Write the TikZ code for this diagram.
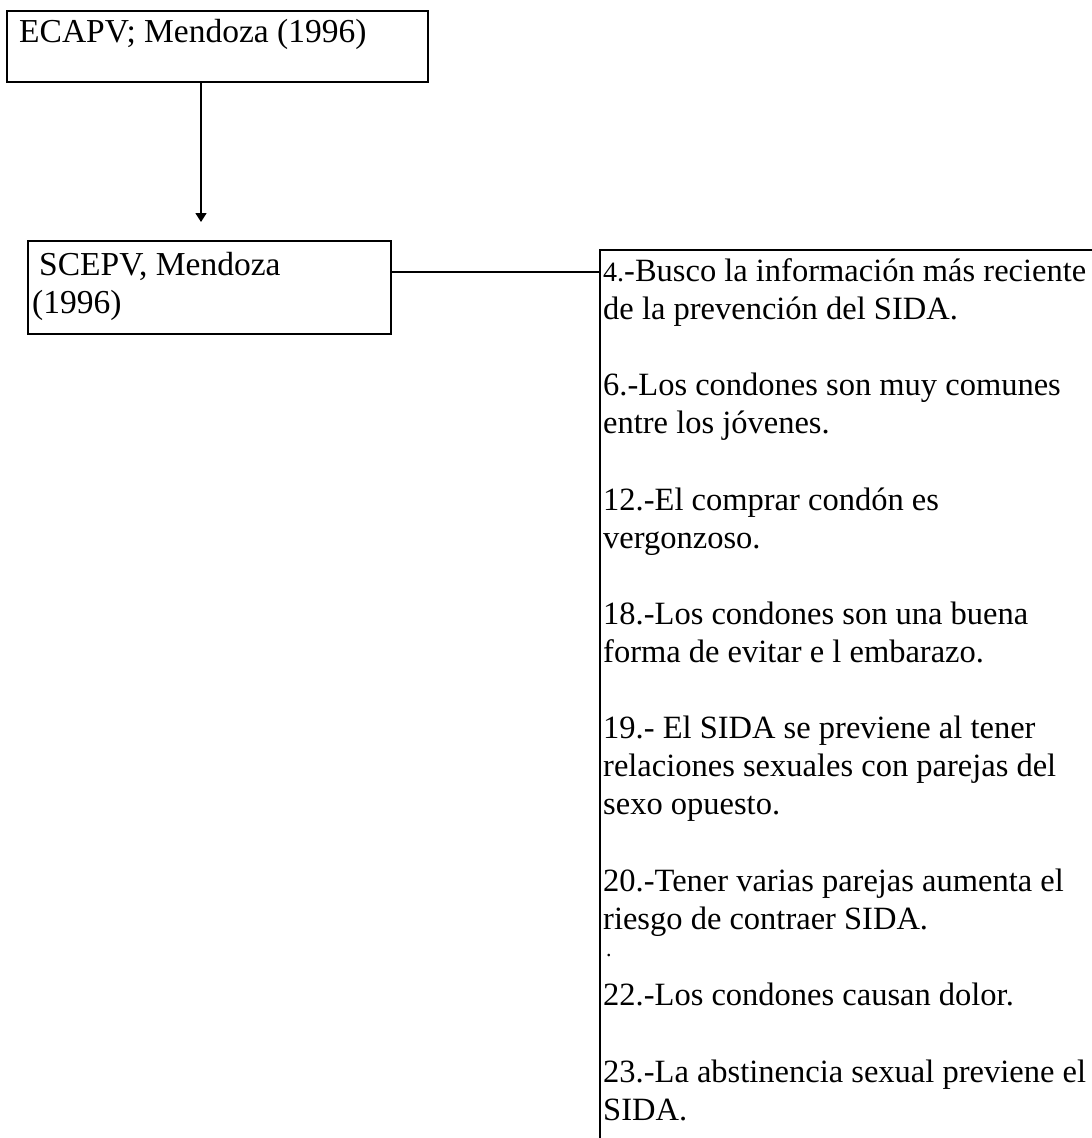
\documentclass[tikz,border=0pt]{standalone}
\usepackage{fontspec}
\setmainfont{Liberation Serif}
\usetikzlibrary{positioning,arrows.meta}
\newcommand{\boxfont}{\fontsize{33.5}{38}\selectfont}
\newcommand{\itemfont}{\fontsize{32.5}{38}\selectfont}
\tikzset{
  caja/.style={draw, line width=2.2pt, inner sep=0pt},
  rotulo/.style={anchor=base west, inner sep=0pt, font=\boxfont},
  item/.style={anchor=north west, inner sep=0pt, align=left, font=\itemfont},
}

\begin{document}
\begin{tikzpicture}[x=1pt,y=-1pt]
\useasboundingbox (0,0) rectangle (1092,1138);
% cajas de la izquierda
\node[caja, minimum width=421pt, minimum height=71pt] (ecapv) at (217.5,46.5) {};
\node[rotulo] (ecapvtxt) at (19,42) {ECAPV; Mendoza (1996)};
\node[caja, minimum width=363pt, minimum height=93pt] (scepv) at (209.5,287.5) {};
\node[rotulo] (scepvtxt) at (39,275) {SCEPV, Mendoza};
\node[rotulo] (anio) at (32,313) {(1996)};
\coordinate (tip) at (201,222);
\draw[line width=1.6pt, -{Triangle[length=9pt,width=11pt]}] (ecapv.south -| tip) -- (tip);
% panel de reactivos
\coordinate (esq) at (600,250);
\coordinate (union) at (600,272);
\draw[line width=2.2pt] (1092,250) -- (esq) -- (600,1138);
\draw[line width=2.2pt] (scepv.east |- union) -- (union);
\node[item] (i4) at (603,254.4) {\strut{\fontsize{28}{38}\selectfont 4.}-Busco la información más reciente\\\strut de la prevención del SIDA.};
\node[item, below right=38pt and 0pt of i4.south west] (i6) {\strut 6.-Los condones son muy comunes\\\strut entre los jóvenes.};
\node[item, below right=38pt and 0pt of i6.south west] (i12) {\strut 12.-El comprar condón es\\\strut vergonzoso.};
\node[item, below right=38pt and 0pt of i12.south west] (i18) {\strut 18.-Los condones son una buena\\\strut forma de evitar e l embarazo.};
\node[item, below right=38pt and 0pt of i18.south west] (i19) {\strut 19.- El SIDA se previene al tener\\\strut relaciones sexuales con parejas del\\\strut sexo opuesto.};
\node[item, below right=38pt and 0pt of i19.south west] (i20) {\strut 20.-Tener varias parejas aumenta el\\\strut riesgo de contraer SIDA.};
\node[anchor=base west, inner sep=0pt, font=\fontsize{22}{22}\selectfont] (punto) at (606,956) {.};
\node[item, below right=38pt and 0pt of i20.south west] (i22) {\strut 22.-Los condones causan dolor.};
\node[item, below right=38pt and 0pt of i22.south west] (i23) {\strut 23.-La abstinencia sexual previene el\\\strut SIDA.};
\end{tikzpicture}
\end{document}
